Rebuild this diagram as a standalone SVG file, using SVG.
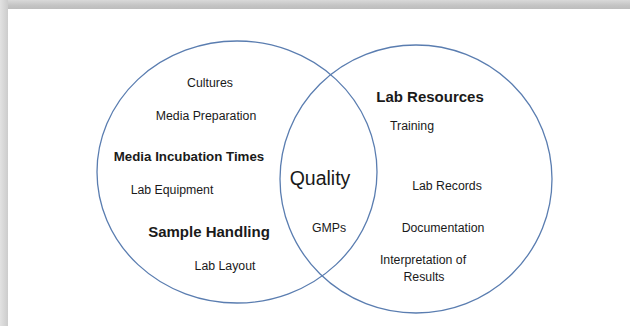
<svg xmlns="http://www.w3.org/2000/svg" width="630" height="326" viewBox="0 0 630 326">
<defs>
<linearGradient id="gt" x1="0" y1="0" x2="0" y2="1"><stop offset="0" stop-color="#d9d9d9"/><stop offset="0.6" stop-color="#c4c4c4"/><stop offset="1" stop-color="#bdbdbd"/></linearGradient>
<linearGradient id="gl" x1="0" y1="0" x2="1" y2="0"><stop offset="0" stop-color="#e2e2e2"/><stop offset="1" stop-color="#cccccc"/></linearGradient>
<style>
.c{fill:none;stroke:#5a7db0;stroke-width:1.3}
text{font-family:"Liberation Sans",Arial,sans-serif;fill:#1a1a1a;text-anchor:middle}
.r{font-size:12.3px}
.b{font-weight:bold}
</style>
</defs>
<rect width="630" height="326" fill="#ffffff"/>
<rect x="0" y="0" width="630" height="9" fill="url(#gt)"/>
<rect x="0" y="0" width="8" height="326" fill="url(#gl)"/>
<g id="connectors"></g>
<g id="left-circle"><ellipse class="c" cx="237" cy="172" rx="140" ry="131"/></g>
<g id="right-circle"><ellipse class="c" cx="416" cy="179" rx="136" ry="134"/></g>
<g id="left-labels">
<text class="r" x="210" y="87">Cultures</text>
<text class="r" x="206" y="120">Media Preparation</text>
<text class="b" x="189" y="161" font-size="13.3">Media Incubation Times</text>
<text class="r" x="172" y="194">Lab Equipment</text>
<text class="b" x="209" y="237" font-size="15">Sample Handling</text>
<text class="r" x="225" y="270">Lab Layout</text>
</g>
<g id="center-labels">
<text x="320" y="185" font-size="19.5">Quality</text>
<text class="r" x="329" y="232">GMPs</text>
</g>
<g id="right-labels">
<text class="b" x="430" y="102" font-size="15">Lab Resources</text>
<text class="r" x="412" y="130">Training</text>
<text class="r" x="447" y="190">Lab Records</text>
<text class="r" x="443" y="232">Documentation</text>
<text class="r" x="423" y="264">Interpretation of</text>
<text class="r" x="424" y="281">Results</text>
</g>
</svg>
